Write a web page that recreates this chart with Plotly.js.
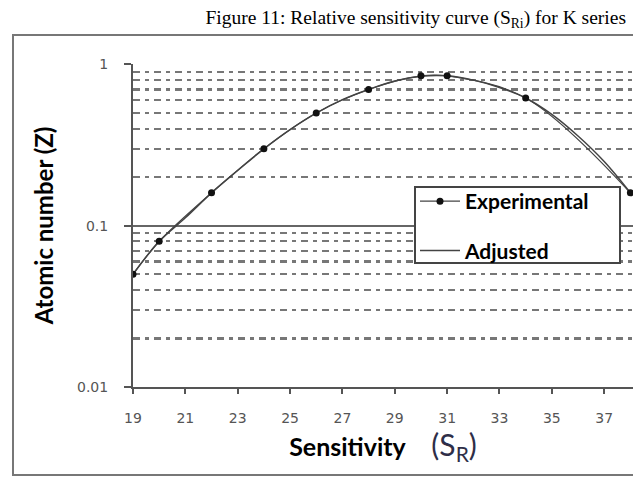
<!DOCTYPE html>
<html>
<head>
<meta charset="utf-8">
<script src="https://cdn.plot.ly/plotly-3.0.1.min.js"></script>
<style>html,body{margin:0;padding:0;background:#fff;}#chart{width:633px;height:477px;}</style>
</head>
<body>
<div id="chart"></div>
<script>
// Experimental points (sensitivity S_R vs relative value)
const expX = [19, 20, 22, 24, 26, 28, 30, 31, 34, 38];
const expY = [0.05, 0.08, 0.16, 0.30, 0.50, 0.70, 0.85, 0.85, 0.62, 0.16];
// Adjusted curve read at each integer sensitivity
const adjX = [19, 20, 21, 22, 23, 24, 25, 26, 27, 28, 29, 30, 31, 32, 33, 34, 35, 36, 37, 38];
const adjY = [0.05, 0.08, 0.112, 0.16, 0.22, 0.30, 0.395, 0.50, 0.605, 0.70, 0.79, 0.845, 0.85, 0.80, 0.72, 0.62, 0.49, 0.36, 0.25, 0.16];
const xTicks = [19, 21, 23, 25, 27, 29, 31, 33, 35, 37];
const yTicks = [0.01, 0.1, 1];
const yTickText = ['0.01', '0.1', '1'];

const traces = [
  {x: adjX, y: adjY, type: 'scatter', mode: 'lines', name: 'Adjusted',
   line: {color: '#444', width: 1.5, shape: 'spline'}, legendgroup: 'b', legendrank: 2},
  {x: expX, y: expY, type: 'scatter', mode: 'lines+markers', name: 'Experimental',
   line: {color: '#444', width: 1.2, shape: 'spline'},
   marker: {color: '#111', size: 7, symbol: 'circle'}, legendgroup: 'a', legendrank: 1}
];

const tickFont = {family: 'DejaVu Sans, Arial, sans-serif', size: 14, color: '#555'};

const layout = {
  width: 633, height: 477,
  margin: {l: 133, r: 0, t: 64, b: 90},
  paper_bgcolor: '#fff', plot_bgcolor: '#fff',
  showlegend: true,
  title: {text: 'Figure 11: Relative sensitivity curve (S<sub>Ri</sub>) for K series',
          font: {family: 'Liberation Serif, Times New Roman, serif', size: 19.5, color: '#000'},
          x: 626/633, xanchor: 'right', xref: 'container', y: 1 - 17/477, yanchor: 'middle', yref: 'container'},
  xaxis: {
    range: [19, 38.1], tickmode: 'array', tickvals: xTicks, ticktext: xTicks.map(String),
    showgrid: false, zeroline: false, showline: true, linecolor: '#555', linewidth: 2,
    ticks: 'outside', ticklen: 5, tickwidth: 2, tickcolor: '#555', ticklabelstandoff: 12,
    tickfont: tickFont,
    title: {text: '<b>Sensitivity</b>&nbsp;&nbsp;&nbsp;&nbsp;<span style="color:#2e2e48;font-size:30px">(S<sub>R</sub>)</span>',
            font: {family: 'Lato, Open Sans, sans-serif', size: 25, color: '#000'}, standoff: 10}
  },
  yaxis: {
    type: 'log', range: [-2, 0.003], tickmode: 'array', tickvals: yTicks, ticktext: yTickText,
    showgrid: true, gridcolor: '#666', gridwidth: 2,
    zeroline: false, showline: true, linecolor: '#555', linewidth: 2,
    ticks: 'outside', ticklen: 7, tickwidth: 2, tickcolor: '#555', ticklabelstandoff: 13,
    tickfont: tickFont,
    minor: {showgrid: true, dtick: 'D1', gridcolor: '#777', gridwidth: 2.2, griddash: '7px,5px,4px,5px', ticks: ''},
    title: {text: '<b>Atomic number (Z)</b>',
            font: {family: 'Lato, Open Sans, sans-serif', size: 24, color: '#000'}, standoff: 17}
  },
  legend: {
    x: (415-133)/500, y: (387-181)/323, xanchor: 'left', yanchor: 'top',
    bgcolor: 'rgba(0,0,0,0)', borderwidth: 0,
    font: {family: 'Lato, Open Sans, sans-serif', size: 21, color: '#000', weight: 'bold'},
    tracegroupgap: 19, traceorder: 'grouped', itemwidth: 40
  },
  shapes: [
    {type: 'rect', xref: 'paper', yref: 'paper',
     x0: (13-133)/500, x1: 1.05, y0: (387-475)/323, y1: (387-35)/323,
     line: {color: '#777', width: 2}, layer: 'below'},
    {type: 'rect', xref: 'paper', yref: 'paper',
     x0: (415-133)/500, x1: (620-133)/500, y0: (387-263)/323, y1: (387-187)/323,
     fillcolor: '#fff', line: {color: '#444', width: 2}, layer: 'above'}
  ]
};

Plotly.newPlot('chart', traces, layout, {displayModeBar: false, staticPlot: true});
</script>
</body>
</html>
